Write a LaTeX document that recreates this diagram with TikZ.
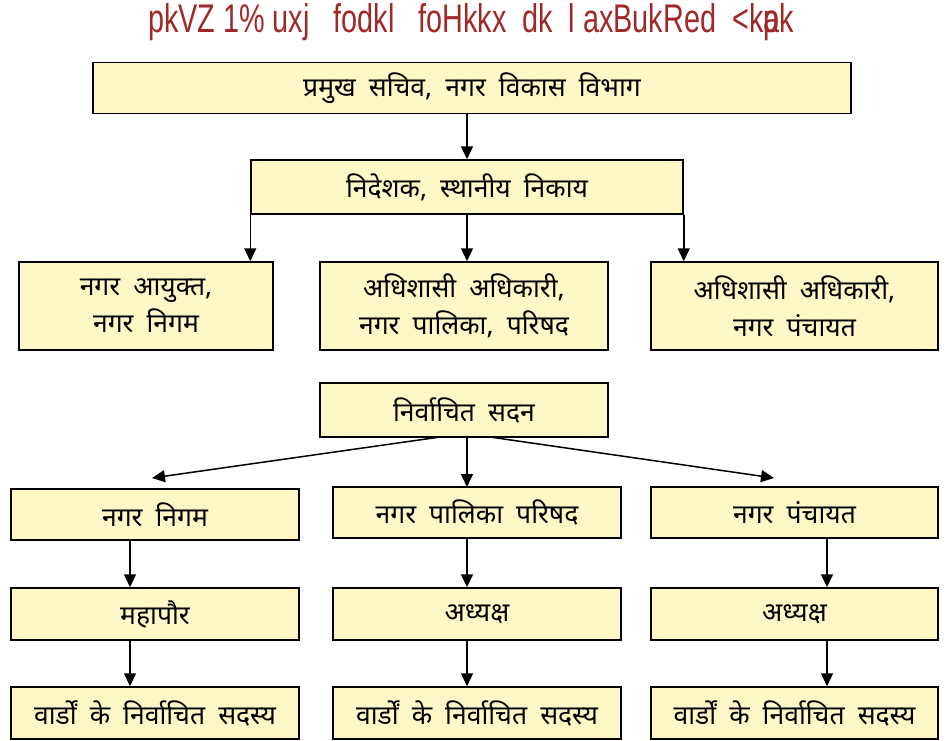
\documentclass[tikz,border=0pt]{standalone}
\usepackage{fontspec}
\newfontfamily\devfont[Script=Devanagari,WordSpace=1.9]{Noto Sans}
\newfontfamily\titlefont[FakeStretch=0.72]{Liberation Sans}
\usetikzlibrary{arrows.meta}
\definecolor{boxfill}{RGB}{255,248,198}
\definecolor{titlered}{RGB}{160,40,40}
\tikzset{
	box/.style={draw=black, line width=1.5pt, fill=boxfill, inner sep=0pt,
		font=\devfont\fontsize{26.5}{37}\selectfont, align=center},
	arr/.style={line width=1.5pt, -{Triangle[length=13pt,width=12pt]}}
}
\begin{document}
\begin{tikzpicture}[x=1pt,y=-1pt]
	\useasboundingbox (0,0) rectangle (946,740);
	\node[text=titlered, font=\titlefont\fontsize{40}{40}\selectfont] (title) at (471,22) {pkVZ 1\%\ uxj\ \ \ fodkl\ \ \ foHkkx\ \ dk\ \ l\ axBukRed\ \ <k\rlap{a}pk};
	% top chain
	\node[box, minimum width=758pt, minimum height=51pt] (secy) at (472,88) {प्रमुख सचिव, नगर विकास विभाग};
	\node[box, minimum width=432pt, minimum height=54pt] (dir) at (467,187) {निदेशक, स्थानीय निकाय};
	\node[box, minimum width=254pt, minimum height=88pt] (comm) at (146,306) {नगर आयुक्त,\\नगर निगम};
	\node[box, minimum width=288pt, minimum height=88pt] (eopp) at (464,306) {अधिशासी अधिकारी,\\नगर पालिका, परिषद};
	\node[box, minimum width=287pt, minimum height=88pt] (eonp) at (794.5,306) {अधिशासी अधिकारी,\\नगर पंचायत};
	\draw[arr] (secy.south -| dir.north) -- (dir.north);
	\draw[arr] (dir.south west) -- (dir.south west |- comm.north);
	\draw[arr] (dir.south) -- (dir.south |- eopp.north);
	\draw[arr] (dir.south east) -- (dir.south east |- eonp.north);
	% elected side
	\node[box, minimum width=288pt, minimum height=54pt] (sadan) at (464,410) {निर्वाचित सदन};
	\node[box, minimum width=288pt, minimum height=51pt] (nigam) at (155,514.5) {नगर निगम};
	\node[box, minimum width=288pt, minimum height=51pt] (palika) at (477,512.5) {नगर पालिका परिषद};
	\node[box, minimum width=287pt, minimum height=51pt] (panch) at (794.5,512.5) {नगर पंचायत};
	\coordinate (nigamTip) at (152,478);
	\coordinate (panchTip) at (774,478);
	\draw[arr] (440,437) -- (nigamTip);
	\draw[arr] (467,437) -- (467,487);
	\draw[arr] (490,437) -- (panchTip);
	\node[box, minimum width=288pt, minimum height=52pt] (mayor) at (155,614) {महापौर};
	\node[box, minimum width=288pt, minimum height=52pt] (chairpp) at (477,614) {अध्यक्ष};
	\node[box, minimum width=287pt, minimum height=52pt] (chairnp) at (794.5,614) {अध्यक्ष};
	\node[box, minimum width=288pt, minimum height=52pt] (wardA) at (155,713) {वार्डों के निर्वाचित सदस्य};
	\node[box, minimum width=288pt, minimum height=52pt] (wardB) at (477,713) {वार्डों के निर्वाचित सदस्य};
	\node[box, minimum width=287pt, minimum height=52pt] (wardC) at (794.5,713) {वार्डों के निर्वाचित सदस्य};
	\draw[arr] (nigam.south -| 130,0) -- (mayor.north -| 130,0);
	\draw[arr] (palika.south -| 467,0) -- (chairpp.north -| 467,0);
	\draw[arr] (panch.south -| 827,0) -- (chairnp.north -| 827,0);
	\draw[arr] (mayor.south -| 130,0) -- (wardA.north -| 130,0);
	\draw[arr] (chairpp.south -| 467,0) -- (wardB.north -| 467,0);
	\draw[arr] (chairnp.south -| 827,0) -- (wardC.north -| 827,0);
\end{tikzpicture}
\end{document}
